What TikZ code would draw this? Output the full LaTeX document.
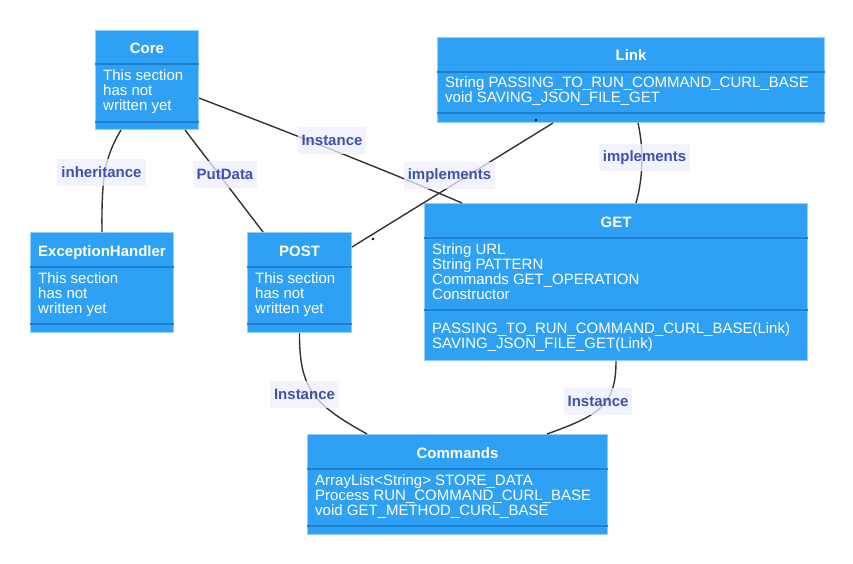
\documentclass[tikz,border=0pt]{standalone}
\usepackage{fontspec}
\setmainfont{Liberation Sans}
\usetikzlibrary{calc}

\definecolor{boxfill}{RGB}{47,161,245}
\definecolor{boxedge}{RGB}{150,206,250}
\definecolor{boxrule}{RGB}{30,128,205}
\definecolor{edgeline}{RGB}{51,51,51}
\definecolor{labelbg}{RGB}{240,240,255}
\definecolor{labeltext}{RGB}{62,82,172}

\begin{document}
\begin{tikzpicture}[x=1pt,y=-1pt,
  classbox/.style={draw=boxedge, fill=boxfill, line width=1pt, inner sep=0pt, anchor=north west},
  rule/.style={draw=boxrule, line width=2pt},
  classname/.style={text=white, font=\fontsize{15}{15}\selectfont\bfseries, anchor=base, inner sep=0pt},
  members/.style={text=white, font=\fontsize{15}{15}\selectfont, align=left, anchor=north west, inner sep=0pt},
  rel/.style={draw=edgeline, line width=1.4pt},
  rellabel/.style={fill=labelbg, fill opacity=0.75, text opacity=1, text=labeltext,
    font=\fontsize{15}{15}\selectfont\bfseries, inner xsep=4pt, inner ysep=0pt, minimum height=27pt},
  enddot/.style={circle, fill=black, inner sep=0pt, minimum size=2.6pt}
]
\useasboundingbox[fill=white] (0,0) rectangle (853,564);

% ---------- class boxes ----------
\node[classbox, minimum width=103pt, minimum height=99pt] (core) at (95,30) {};
\node[classbox, minimum width=387pt, minimum height=85pt] (link) at (437,37) {};
\node[classbox, minimum width=143pt, minimum height=100pt] (eh) at (30,232) {};
\node[classbox, minimum width=104pt, minimum height=100pt] (post) at (247,232) {};
\node[classbox, minimum width=383pt, minimum height=157pt] (get) at (424,203) {};
\node[classbox, minimum width=300pt, minimum height=100pt] (cmd) at (307,434) {};

% section rules
\foreach \n/\h/\b in {core/34/92, link/35/76, eh/35/92, post/35/92, get/35/107, cmd/35/92}{
  \draw[rule] ($(\n.north west)+(0,\h)$) -- ($(\n.north east)+(0,\h)$);
  \draw[rule] ($(\n.north west)+(0,\b)$) -- ($(\n.north east)+(0,\b)$);
}

% class names
\node[classname] (coreT) at ($(core.north)+(0,23.4)$) {Core};
\node[classname] (linkT) at ($(link.north)+(0,24)$) {Link};
\node[classname] (ehT) at ($(eh.north)+(0,24)$) {ExceptionHandler};
\node[classname] (postT) at ($(post.north)+(0,24)$) {POST};
\node[classname] (getT) at ($(get.north)+(0,24)$) {GET};
\node[classname] (cmdT) at ($(cmd.north)+(0,24)$) {Commands};

% members
\node[members] (coreA) at ($(core.north west)+(8,39.5)$) {This section\\has not\\written yet};
\node[members] (linkA) at ($(link.north west)+(8,39.5)$) {String PASSING\_TO\_RUN\_COMMAND\_CURL\_BASE\\void SAVING\_JSON\_FILE\_GET};
\node[members] (ehA) at ($(eh.north west)+(8,40)$) {This section\\has not\\written yet};
\node[members] (postA) at ($(post.north west)+(8,40)$) {This section\\has not\\written yet};
\node[members] (getA) at ($(get.north west)+(8,40)$) {String URL\\String PATTERN\\Commands GET\_OPERATION\\Constructor};
\node[members] (getM) at ($(get.north west)+(8,119.5)$) {PASSING\_TO\_RUN\_COMMAND\_CURL\_BASE(Link)\\SAVING\_JSON\_FILE\_GET(Link)};
\node[members] (cmdA) at ($(cmd.north west)+(8,40)$) {ArrayList<String> STORE\_DATA\\Process RUN\_COMMAND\_CURL\_BASE\\void GET\_METHOD\_CURL\_BASE};

% ---------- relations ----------
\draw[rel] ($(core.south west)+(26,0)$) .. controls (104,158) and (101.5,180) .. (eh.north);
\draw[rel] ($(core.south west)+(90,0)$) -- ($(post.north west)+(16,0)$);
\draw[rel] ($(core.north east)+(0,68)$) .. controls (290,133) and (380,168) .. ($(get.north west)+(38,0)$);
\draw[rel] ($(link.south west)+(116,0)$) -- ($(post.north east)+(0,15)$);
\draw[rel] ($(link.south west)+(201,0)$) .. controls (644,150) and (643,178) .. ($(get.north west)+(212,0)$);
\draw[rel] (post.south) .. controls (299,390) and (315,405) .. ($(cmd.north west)+(60,0)$);
\draw[rel] (get.south) .. controls (616,405) and (600,415) .. ($(cmd.north west)+(240,0)$);

% end markers
\node[enddot] (linkDot) at ($(link.south west)+(99,-3)$) {};
\node[enddot] (postDot) at ($(post.north east)+(21,7)$) {};

% relation labels
\node[rellabel] (l1) at (101.5,172.5) {inheritance};
\node[rellabel] (l2) at (225,174.5) {PutData};
\node[rellabel] (l3) at (332,140.5) {Instance};
\node[rellabel] (l4) at (449.5,175.5) {implements};
\node[rellabel] (l5) at (644.5,157.5) {implements};
\node[rellabel] (l6) at (304.5,394.5) {Instance};
\node[rellabel] (l7) at (598,401.5) {Instance};
\end{tikzpicture}
\end{document}
